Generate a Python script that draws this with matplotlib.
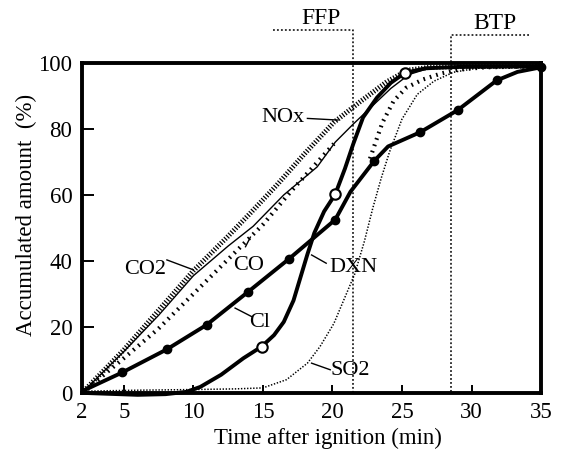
import matplotlib.pyplot as plt

plt.rcParams['font.family'] = 'Liberation Serif'

# values: time after ignition (min), accumulated amount (%)
nox_t = [2, 5, 7.5, 10, 12.5, 14.1, 16, 18, 20.1, 22, 23.9, 25.4, 27, 30, 35]
nox_v = [0, 13, 25, 37, 47.5, 54.5, 63, 72.5, 82, 88.3, 94.3, 97.8, 98.7, 99, 99]

co2_t = [2, 5, 7.5, 10, 12.5, 14.3, 16.5, 18.9, 20.2, 21.5, 22.7, 24.2, 25.5, 27, 30, 35]
co2_v = [0, 12.5, 23.5, 35.5, 44.5, 50.5, 60, 68.5, 76, 81.5, 86.3, 92.3, 96.5, 98.5, 99, 99]

co_t = [2, 5, 7.5, 10, 12.5, 15, 17, 18.5, 20.1]
co_v = [0, 10.5, 19.5, 30, 40.5, 51, 61, 68, 75.5]

# unlabelled heavy dotted curve leaving the Cl line near 23 min
dot_t = [22.7, 23.1, 23.6, 24.4, 25.3, 26.5, 27.8, 29, 31, 35]
dot_v = [71, 76, 82, 88.5, 92.5, 95, 96.8, 98, 98.7, 99]

so2_t = [2, 6, 10, 13, 15, 16.7, 18.2, 19.1, 20.1, 21.0, 21.6, 22.3, 22.9, 23.5, 24.1,
         25.0, 26.1, 27.3, 28.7, 30.5, 35]
so2_v = [0.5, 0.8, 1, 1.2, 1.5, 4, 9, 14, 21, 30, 36, 46, 56, 65, 73,
         83, 90.5, 94.5, 97.2, 98.5, 99]

dxn_t = [2, 4, 6, 8, 9.5, 10.5, 12, 13.6, 14.9, 15.8, 16.5, 17.2, 17.7, 18.2, 18.7,
         19.4, 20.2, 20.9, 21.5, 22.2, 23.2, 24.2, 25.2, 26.7, 29, 35]
dxn_v = [0, -0.3, -0.6, -0.4, 0.3, 1.8, 5.5, 10.5, 14, 17.5, 21.5, 28, 35, 42, 48.5,
         55, 60.2, 68, 75.5, 83.5, 89.5, 94, 97, 98.4, 98.8, 99]
dxn_mark_t = [14.9, 20.2, 25.2]
dxn_mark_v = [14, 60.2, 97]

cl_t = [2, 4.9, 6.5, 8.1, 10.95, 13.9, 16.9, 20.2, 21.3, 23.0, 24, 26.3, 29, 31.8, 33.3, 35]
cl_v = [0.5, 6.2, 9.7, 13.2, 20.6, 30.5, 40.7, 52.5, 61, 70.3, 74.7, 79, 85.7, 94.7, 97.3, 98.7]
cl_mark_t = [4.9, 8.1, 10.95, 13.9, 16.9, 20.2, 23.0, 26.3, 29, 31.8, 35]
cl_mark_v = [6.2, 13.2, 20.6, 30.5, 40.7, 52.5, 70.3, 79, 85.7, 94.7, 98.7]

xticks = [2, 5, 10, 15, 20, 25, 30, 35]
yticks = [0, 20, 40, 60, 80, 100]

fig = plt.figure(figsize=(5.66, 4.5), dpi=100)
ax = fig.add_axes([0.145, 0.127, 0.811, 0.733])

ax.plot(co_t, co_v, color='black', lw=3.0, dashes=(0.4, 1.2), dash_capstyle='butt')
ax.plot(dot_t, dot_v, color='black', lw=3.0, dashes=(0.4, 1.2), dash_capstyle='butt')
ax.plot(so2_t, so2_v, color='black', lw=1.1, dashes=(0.9, 1.1), dash_capstyle='butt')
ax.plot(nox_t, nox_v, color='black', lw=3.6, dashes=(0.25, 0.35), dash_capstyle='butt')
ax.plot(co2_t, co2_v, color='black', lw=1.0)
ax.plot(cl_t, cl_v, color='black', lw=2.8)
ax.plot(cl_mark_t, cl_mark_v, 'o', color='black', ms=6, clip_on=False)
ax.plot(dxn_t, dxn_v, color='black', lw=2.8, clip_on=False)
ax.plot(dxn_mark_t, dxn_mark_v, 'o', mfc='white', mec='black', mew=1.5, ms=7.5,
        clip_on=False)

# FFP / BTP brackets
ax.plot([15.76, 21.45, 21.45], [110, 110, 0], color='black', lw=1.1,
        dashes=(1.2, 1.4), clip_on=False)
ax.plot([34.1, 28.55, 28.55], [108.5, 108.5, 0], color='black', lw=1.1,
        dashes=(1.2, 1.4), clip_on=False)
ax.text(19.2, 111.8, 'FFP', fontsize=17, ha='center', va='baseline')
ax.text(31.7, 110.3, 'BTP', fontsize=17, ha='center', va='baseline')

# curve labels with leader lines
labels = [
    ('NOx', 16.45, 82.2, (18.2, 20.4), (83.2, 82.7)),
    ('CO2', 6.5, 36.0, (8.1, 10.0), (40.3, 37.3)),
    ('CO', 14.0, 37.3, (13.75, 14.1), (44.3, 47.2)),
    ('DXN', 21.5, 36.5, (18.5, 19.55), (41.8, 39.3)),
    ('Cl', 14.8, 19.9, (13.0, 14.2), (25.7, 23.1)),
    ('SO2', 21.3, 5.5, (18.5, 19.84), (9.0, 7.0)),
]
for name, tx, ty, lx, ly in labels:
    ax.text(tx, ty, name, fontsize=16, ha='center', va='baseline')
    ax.plot(lx, ly, color='black', lw=1.0)

ax.set_xlim(2, 35)
ax.set_ylim(0, 100)
ax.set_xticks(xticks)
ax.set_yticks(yticks)
ax.tick_params(axis='y', direction='in', length=8.6, width=1.4, pad=7, labelsize=16.5)
ax.tick_params(axis='x', direction='in', length=5.7, width=1.4, pad=6.5, labelsize=16.5)
for s in ax.spines.values():
    s.set_linewidth(2.8)

ax.set_xlabel('Time after ignition (min)', fontsize=16.5)
ax.xaxis.set_label_coords(0.536, -0.105)
ax.xaxis.label.set_va('top')
ax.set_ylabel('Accumulated amount  (%)', fontsize=16.5)
ax.yaxis.set_label_coords(-0.0975, 0.54)

plt.savefig('out.png', dpi=100)
